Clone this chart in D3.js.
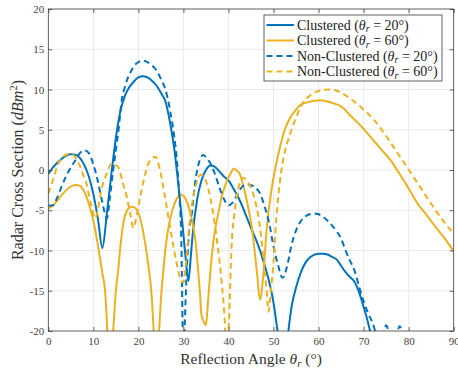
<!DOCTYPE html>
<html><head><meta charset="utf-8">
<script src="https://cdn.jsdelivr.net/npm/d3@7"></script>
<style>body{margin:0;background:#fff} svg{display:block} text{font-family:"Liberation Serif","DejaVu Serif",serif}</style>
</head><body>
<svg id="chart" width="458" height="372"></svg>
<script>
// ---- data ----
const xTicks = [0,10,20,30,40,50,60,70,80,90];
const yTicks = [-20,-15,-10,-5,0,5,10,15,20];

const clustered20Theta = [0,1,2,3,4,5,6,7,8,9,10,11,12,13,14,15,16,17,18,19,20,21,22,23,24,25,26,27,28,29,30,30.5,31.1,31.6,32,33,34,35,36,37,38,39,40,41,42,43,44,45,46,47,48,49,50,51,52.2,53.3,54,55,56,57,58,59,60,61,62,63,64,65,66,67,68,69,70,71,71.6,72.5];
const clustered20Rcs   = [-0.5,0.3,0.9,1.4,1.8,1.95,1.9,1.5,0.6,-0.8,-3,-6,-9.7,-5.4,-0.5,4,7.3,9.2,10.3,11,11.5,11.65,11.5,11.1,10.5,9.6,8.5,6,2.5,-2.5,-8,-11,-13.8,-11,-8.3,-3.8,-1.3,0,0.55,0.4,-0.2,-0.8,-1.3,-2.2,-3.2,-4.4,-5.8,-7.2,-8.5,-10,-11.8,-13.8,-16.5,-20.5,-26,-20,-17,-14.6,-12.8,-11.6,-10.9,-10.55,-10.4,-10.4,-10.5,-10.8,-11.1,-11.9,-12.7,-13.3,-13.9,-15.2,-17,-19,-20.5,-24];

const clustered60Theta = [0,1,2,3,4,5,6,7,8,9,10,11,12,12.6,13.1,13.5,14.4,15,15.6,16,16.7,17.5,18.5,19.5,20.4,21,22.2,23,23.4,23.9,24.6,25,25.6,26,27,28,29,29.5,30,31,32,32.6,33.2,33.7,34,34.5,35,35.5,36.3,37,37.8,38.5,39.3,40,40.7,41.1,41.7,42.6,43.7,44.5,45.2,46.3,47,47.8,48.5,49.6,50.5,51.5,52.5,53.5,55,56,57.5,59,60.5,62,63.5,65,67,69,70,72,74,76,78,80,82,84,86,88,90];
const clustered60Rcs   = [-4.8,-4.4,-3.8,-3.1,-2.5,-2.05,-1.85,-1.95,-2.7,-4.2,-6.3,-9.3,-12.8,-15,-20,-26,-20,-15,-12,-9.5,-6.5,-5,-4.55,-4.8,-6,-7.5,-11.8,-16,-20,-26,-20,-16,-12.2,-9.8,-6.2,-4.2,-3.2,-3.05,-3.2,-4.3,-6.5,-8.5,-12,-15.5,-18,-18.8,-19.3,-16,-10.6,-7.5,-5.2,-3.3,-1.9,-0.9,-0.2,0.2,0,-0.6,-2.9,-5,-7.2,-12.6,-16.1,-12.6,-7.2,-2.3,0.5,3,5,6.3,7.5,8.1,8.4,8.6,8.65,8.5,8.25,7.9,6.8,5.7,5.1,3.8,2.5,1.2,-0.5,-2.3,-4.2,-5.6,-7.1,-8.5,-10.1];

const nonClustered20Theta = [0,1,2,3,4,5,6,7,8,9,10,11,12,13,13.7,14.4,15,15.6,16.3,17,18,18.5,19,20,21,22,23,24,25,26,27,28,28.5,29,29.5,30,30.3,30.7,31.2,31.9,32.5,33.3,34.4,35,36,37,38,39,40,41,42,43,44,45,46,47,48,49,50,51,52,53,54,55,56,57,58,59,60,61,62,63,64,65,66,67,68,69,70,71,72,73,74,75,76,77,78,79];
const nonClustered20Rcs   = [-4.4,-4.4,-3.4,-2,-0.7,0.3,1.2,2.1,2.45,2.1,0.7,-1.4,-4,-6,-3.3,0,2.5,5,8.7,10.3,11.9,12.4,12.9,13.4,13.6,13.4,13,12.4,11.3,10,7.5,4,1.5,-2.5,-8,-24,-19,-13,-8,-5.2,-2,0.6,1.86,1.6,0.8,-0.5,-2.2,-3.6,-4.4,-4,-3,-2.1,-1.8,-1.9,-2.2,-2.9,-4.5,-6.5,-9.5,-11.8,-13.4,-12,-9.3,-7.5,-6.4,-5.8,-5.5,-5.4,-5.5,-5.8,-6.3,-6.9,-7.6,-8.5,-10,-11.3,-12.5,-14.5,-16.3,-17.8,-19,-20.6,-21,-19.3,-20.8,-21,-19.4,-21.5];

const nonClustered60Theta = [0,1,2,3,4,5,6,7,8,8.5,9,9.6,10.4,11,11.5,12,13,14,15,15.6,16.5,17.4,18.2,18.9,19.5,20.4,21.3,22.2,23,23.8,24.8,25.9,26.7,27.4,28.5,29.3,30,30.8,31.5,32.3,33,33.8,34.5,35.5,36.5,37.5,38.5,39.2,39.6,40.1,40.7,41.3,41.9,42.6,43.3,44.2,45.2,46,46.7,47.3,47.8,48.4,48.9,49.4,50,50.5,51.1,51.7,52.2,53.7,55,56.7,58,59.5,61,62.5,64,65,67,69,70,72.2,74,76,78,79.6,81,83,85,87,88.5,90];
const nonClustered60Rcs   = [-2.9,-1.3,0.5,1.5,1.9,2,1.6,0.5,-1,-1.7,-3,-4.5,-6,-5,-3.3,-2,-0.4,0.75,0.6,0.3,-1.5,-3.3,-5.5,-7.2,-6,-3.3,-1,0.8,1.4,1.65,0,-3.3,-6,-8.3,-11.6,-13.5,-14,-10,-6,-3,-1.4,-0.6,-0.8,-2.3,-5,-9,-14,-19,-24,-19,-9.3,-5.5,-3.1,-1.5,-1,-1.4,-2.5,-4,-6,-8.5,-11.4,-14.5,-17.6,-15,-11.4,-7,-3.1,-0.2,1.45,4.5,6.5,8.5,9.2,9.7,9.95,10,9.85,9.6,8.9,8,7.5,6.3,5,3.4,1.7,0.4,-0.8,-2.5,-4.2,-5.8,-6.9,-7.9];

const seriesLabels = ["Clustered", "Clustered", "Non-Clustered", "Non-Clustered"];
const seriesAngles = [20, 60, 20, 60];

// ---- layout / style ----
const W = 458, H = 372;
const m = {left: 48.3, right: 4.3, top: 9, bottom: 41};
const iw = W - m.left - m.right, ih = H - m.top - m.bottom;
const BLUE = "#0072BD", GOLD = "#EDB120";
const seriesStyle = [
  {color: BLUE, dash: null},
  {color: GOLD, dash: null},
  {color: BLUE, dash: "6,4"},
  {color: GOLD, dash: "6,4"}
];
const FONT = "Liberation Serif, DejaVu Serif, serif";
const AXC = "#3a3a3a";

const svg = d3.select("#chart");
const g = svg.append("g").attr("transform", `translate(${m.left},${m.top})`);

const x = d3.scaleLinear().domain([0, 90]).range([0, iw]);
const y = d3.scaleLinear().domain([-20, 20]).range([ih, 0]);

// grid
g.append("g").attr("class","grid")
  .selectAll("line").data(xTicks.slice(1,-1)).join("line")
  .attr("x1", d => x(d)).attr("x2", d => x(d)).attr("y1", 0).attr("y2", ih)
  .attr("stroke", "#e4e4e4").attr("stroke-width", 0.8);
g.append("g").attr("class","grid")
  .selectAll("line").data(yTicks.slice(1,-1)).join("line")
  .attr("y1", d => y(d)).attr("y2", d => y(d)).attr("x1", 0).attr("x2", iw)
  .attr("stroke", "#e4e4e4").attr("stroke-width", 0.8);

// clip
svg.append("defs").append("clipPath").attr("id","plotclip")
  .append("rect").attr("x",0).attr("y",0).attr("width",iw).attr("height",ih);

// series
const seriesData = [
  d3.zip(clustered20Theta, clustered20Rcs),
  d3.zip(clustered60Theta, clustered60Rcs),
  d3.zip(nonClustered20Theta, nonClustered20Rcs),
  d3.zip(nonClustered60Theta, nonClustered60Rcs)
];
const line = d3.line().x(d => x(d[0])).y(d => y(d[1])).curve(d3.curveMonotoneX);
const lines = g.append("g").attr("clip-path","url(#plotclip)");
seriesData.forEach((s, i) => {
  lines.append("path").datum(s)
    .attr("d", line)
    .attr("fill","none")
    .attr("stroke", seriesStyle[i].color)
    .attr("stroke-width", 2)
    .attr("stroke-dasharray", seriesStyle[i].dash)
    .attr("stroke-linejoin","round");
});

// axes
function styleAxis(sel, labels) {
  sel.attr("font-family", FONT).attr("font-size", 11);
  sel.select(".domain").remove();
  sel.selectAll(".tick line").attr("stroke", AXC).attr("stroke-width", 0.8);
  sel.selectAll(".tick text").attr("font-family", FONT).attr("font-size", 11).attr("fill", "#444");
  if (!labels) sel.selectAll(".tick text").remove();
}
g.append("g").attr("transform", `translate(0,${ih})`)
  .call(d3.axisBottom(x).tickValues(xTicks).tickSizeInner(-4).tickSizeOuter(0).tickPadding(6).tickFormat(d3.format("d")))
  .call(s => styleAxis(s, true));
g.append("g")
  .call(d3.axisLeft(y).tickValues(yTicks).tickSizeInner(-4).tickSizeOuter(0).tickPadding(4).tickFormat(d => String(d)))
  .call(s => styleAxis(s, true));
g.append("g")
  .call(d3.axisTop(x).tickValues(xTicks).tickSizeInner(-4).tickSizeOuter(0))
  .call(s => styleAxis(s, false));
g.append("g").attr("transform", `translate(${iw},0)`)
  .call(d3.axisRight(y).tickValues(yTicks).tickSizeInner(-4).tickSizeOuter(0))
  .call(s => styleAxis(s, false));
g.append("rect").attr("x",0).attr("y",0).attr("width",iw).attr("height",ih)
  .attr("fill","none").attr("stroke",AXC).attr("stroke-width",0.8);

// axis titles
const xt = svg.append("text")
  .attr("x", m.left + iw/2).attr("y", 364)
  .attr("text-anchor","middle").attr("font-family",FONT).attr("font-size",15.5).attr("fill","#333");
xt.append("tspan").text("Reflection Angle ");
xt.append("tspan").attr("font-style","italic").text("θ");
xt.append("tspan").attr("font-style","italic").attr("font-size",11).attr("dy",3).text("r");
xt.append("tspan").attr("dy",-3).text(" (°)");

const yt = svg.append("text")
  .attr("transform", `translate(23,${m.top + ih/2}) rotate(-90)`)
  .attr("text-anchor","middle").attr("font-family",FONT).attr("font-size",16).attr("fill","#333");
yt.append("tspan").text("Radar Cross Section (");
yt.append("tspan").attr("font-style","italic").text("dBm");
yt.append("tspan").attr("font-size",11).attr("dy",-6).text("2");
yt.append("tspan").attr("dy",6).text(")");

// legend
const lg = svg.append("g").attr("transform","translate(264,15)");
lg.append("rect").attr("x",0).attr("y",0).attr("width",178).attr("height",66)
  .attr("fill","#fff").attr("stroke",AXC).attr("stroke-width",0.8);
seriesLabels.forEach((lab, i) => {
  const yy = 10 + i * 15.5;
  lg.append("line").attr("x1",2.5).attr("x2",30).attr("y1",yy).attr("y2",yy)
    .attr("stroke", seriesStyle[i].color).attr("stroke-width",2)
    .attr("stroke-dasharray", seriesStyle[i].dash);
  const t = lg.append("text").attr("x",33).attr("y",yy+4.5)
    .attr("font-family",FONT).attr("font-size",14).attr("fill","#222");
  t.append("tspan").text(lab + " (");
  t.append("tspan").attr("font-style","italic").text("θ");
  t.append("tspan").attr("font-style","italic").attr("font-size",10).attr("dy",2.5).text("r");
  t.append("tspan").attr("dy",-2.5).text(" = " + seriesAngles[i] + "°)");
});
</script>
</body></html>
